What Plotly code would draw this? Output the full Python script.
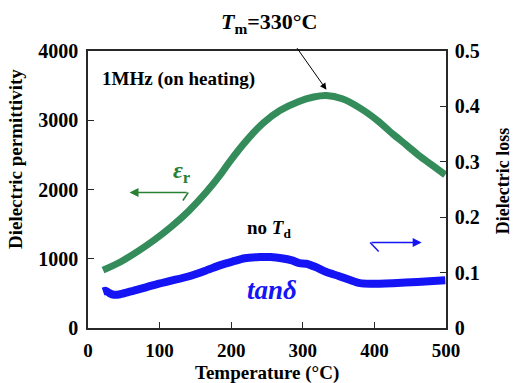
import plotly.graph_objects as go

# Permittivity data (left axis)
temp_eps = [21, 46.5, 70, 93, 116, 140, 165, 186, 198, 221.6, 245, 268, 293.7, 315, 333, 355, 380, 405, 427, 445, 464, 482, 499]
eps_r = [835, 961, 1110, 1274, 1460, 1683, 1960, 2230, 2404, 2710, 2962, 3140, 3268, 3335, 3357, 3310, 3175, 2990, 2790, 2640, 2476, 2340, 2212]

# Dielectric loss data (right axis)
temp_tan = [21, 25, 30, 36, 45, 60, 93, 115, 140, 163, 186, 205, 219, 240, 255, 270, 285, 295, 305, 318, 333, 350, 365, 380, 395, 426, 460, 499]
tan_d = [0.066, 0.067, 0.063, 0.060, 0.061, 0.066, 0.078, 0.085, 0.093, 0.103, 0.114, 0.121, 0.126, 0.128, 0.128, 0.126, 0.122, 0.117, 0.116, 0.110, 0.101, 0.094, 0.087, 0.081, 0.080, 0.081, 0.083, 0.086]

x_ticks = [0, 100, 200, 300, 400, 500]
y1_ticks = [0, 1000, 2000, 3000, 4000]
y2_ticks = [0, 0.1, 0.2, 0.3, 0.4, 0.5]
y2_labels = ["0", "0.1", "0.2", "0.3", "0.4", "0.5"]

FONT = "Liberation Serif, Times New Roman, serif"
GREEN = "rgb(52,140,90)"
GREEN_TXT = "rgb(40,128,50)"
BLUE = "rgb(20,20,245)"
AX = "rgb(40,40,40)"

fig = go.Figure()
fig.add_trace(go.Scatter(x=temp_eps, y=eps_r, mode="lines",
                         line=dict(color=GREEN, width=7, shape="spline", smoothing=0.8),
                         yaxis="y", showlegend=False))
fig.add_trace(go.Scatter(x=temp_tan, y=tan_d, mode="lines",
                         line=dict(color=BLUE, width=8, shape="spline", smoothing=0.8),
                         yaxis="y2", showlegend=False))

tickfont = dict(family=FONT, size=20, color="black", weight="bold")
xtickfont = dict(family=FONT, size=19, color="black", weight="bold")

fig.update_layout(
    width=515, height=383,
    margin=dict(l=88, r=69, t=51, b=55),
    paper_bgcolor="white", plot_bgcolor="white",
    font=dict(family=FONT, color="black"),
    xaxis=dict(range=[0, 500], tickvals=x_ticks, ticks="inside", ticklen=6, tickwidth=1.3,
               tickcolor=AX, showline=True, linecolor=AX, linewidth=1.5, mirror=True,
               showgrid=False, zeroline=False, tickfont=xtickfont, ticklabelstandoff=4),
    yaxis=dict(range=[0, 4000], tickvals=y1_ticks, ticks="inside", ticklen=6, tickwidth=1.3,
               tickcolor=AX, showline=True, linecolor=AX, linewidth=1.5,
               showgrid=False, zeroline=False, tickfont=tickfont, ticklabelstandoff=4),
    yaxis2=dict(range=[0, 0.5], tickvals=y2_ticks, ticktext=y2_labels, overlaying="y", side="right",
                ticks="inside", ticklen=6, tickwidth=1.3, tickcolor=AX, showline=True,
                linecolor=AX, linewidth=1.5, showgrid=False, zeroline=False,
                tickfont=tickfont, ticklabelstandoff=3),
)

ann = []
# axis titles
ann.append(dict(text="<b>Dielectric permittivity</b>", xref="paper", yref="paper", x=0, y=0.61,
                xshift=-73, xanchor="center", yanchor="middle", textangle=-90, showarrow=False,
                font=dict(family=FONT, size=19)))
ann.append(dict(text="<b>Dielectric loss</b>", xref="paper", yref="paper", x=1, y=0.53,
                xshift=57, xanchor="center", yanchor="middle", textangle=-90, showarrow=False,
                font=dict(family=FONT, size=18)))
ann.append(dict(text="<b>Temperature (°C)</b>", xref="paper", yref="paper", x=0.5, y=0,
                yshift=-45, xanchor="center", yanchor="middle", showarrow=False,
                font=dict(family=FONT, size=19)))
# labels
ann.append(dict(text="<b>1MHz (on heating)</b>", xref="x", yref="y", x=17, y=3600, xanchor="left",
                yanchor="middle", showarrow=False, font=dict(family=FONT, size=19)))
ann.append(dict(text="<b><i>T</i><sub>m</sub>=330°C</b>", xref="paper", yref="paper", x=0.508, y=1.101,
                xanchor="center", yanchor="middle", showarrow=False, font=dict(family=FONT, size=22)))
ann.append(dict(x=333, y=3440, ax=290.5, ay=4063, xref="x", yref="y", axref="x", ayref="y",
                text="", showarrow=True, arrowhead=2, arrowsize=1.3, arrowwidth=1, arrowcolor="black"))
ann.append(dict(text="<b><i>ε</i><sub>r</sub></b>", xref="x", yref="y", x=131, y=2250,
                showarrow=False, font=dict(family=FONT, size=24, color=GREEN_TXT)))
ann.append(dict(text="<b>no <i>T</i><sub>d</sub></b>", xref="x", yref="y", x=253, y=1430,
                showarrow=False, font=dict(family=FONT, size=19)))
ann.append(dict(text="<b><i>tanδ</i></b>", xref="x", yref="y", x=257, y=550,
                showarrow=False, font=dict(family=FONT, size=27, color=BLUE)))
# green arrow (pointing left)
ann.append(dict(x=58, y=1957, ax=140, ay=1957, xref="x", yref="y", axref="x", ayref="y",
                text="", showarrow=True, arrowhead=2, arrowsize=1.2, arrowwidth=1.5, arrowcolor=GREEN_TXT))
# blue arrow (pointing right)
ann.append(dict(x=466, y=1235, ax=394, ay=1235, xref="x", yref="y", axref="x", ayref="y",
                text="", showarrow=True, arrowhead=2, arrowsize=1.2, arrowwidth=1.5, arrowcolor=BLUE))
fig.update_layout(annotations=ann)

# hooks of the arrows
fig.add_shape(type="line", xref="x", yref="y", x0=140, y0=1957, x1=132.5, y1=1841,
              line=dict(color=GREEN_TXT, width=1.5))
fig.add_shape(type="line", xref="x", yref="y", x0=394, y0=1235, x1=406, y1=1106,
              line=dict(color=BLUE, width=1.5))

fig.write_html("out.html")
